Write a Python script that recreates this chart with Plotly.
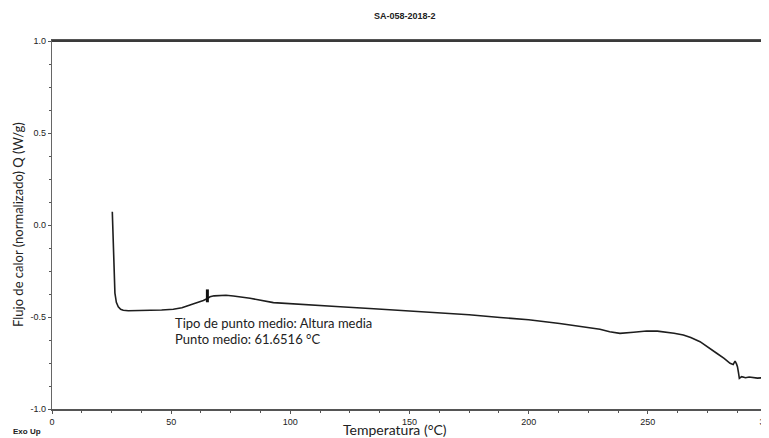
import plotly.graph_objects as go

# Data
temperature = [25.3, 25.6, 26.0, 26.4, 27.0, 27.8, 28.8, 29.9, 32.0, 36.9, 42.0, 46.0, 50.9, 54.5,
               57.9, 61.0, 63.5, 65.2, 66.3, 68.0, 70.5, 73.0, 76.1, 83.1, 92.9, 106.9, 120.9,
               135.0, 150.0, 165.0, 175.0, 188.0, 200.0, 213.0, 222.0, 229.9, 234.0, 238.3, 244.0,
               249.5, 254.0, 257.9, 261.0, 264.9, 268.0, 271.9, 275.0, 278.9, 282.0, 284.5, 285.8,
               286.6, 287.2, 287.6, 288.0, 288.4, 289.4, 291.0, 292.5, 294.3, 296.0, 298.5]
heat_flow = [0.072, -0.05, -0.20, -0.37, -0.42, -0.444, -0.458, -0.463, -0.466, -0.466, -0.464,
             -0.462, -0.458, -0.450, -0.435, -0.422, -0.41, -0.40, -0.39, -0.385, -0.382, -0.382,
             -0.386, -0.398, -0.422, -0.435, -0.444, -0.455, -0.467, -0.478, -0.488, -0.503,
             -0.515, -0.535, -0.552, -0.567, -0.580, -0.589, -0.583, -0.576, -0.577, -0.582,
             -0.588, -0.598, -0.612, -0.634, -0.660, -0.697, -0.725, -0.752, -0.758, -0.740,
             -0.755, -0.770, -0.80, -0.833, -0.824, -0.830, -0.826, -0.828, -0.832, -0.830]

midpoint_marker_x = [65.2, 65.2]
midpoint_marker_y = [-0.35, -0.42]

x_ticks = [0, 50, 100, 150, 200, 250, 300]
y_ticks = [-1.0, -0.5, 0.0, 0.5, 1.0]
y_tick_labels = ["-1.0", "-0.5", "0.0", "0.5", "1.0"]

title_text = "SA-058-2018-2"
x_title = "Temperatura (°C)"
y_title = "Flujo de calor (normalizado) Q (W/g)"
note_lines = ["Tipo de punto medio: Altura media", "Punto medio: 61.6516 °C"]

narrow = "Liberation Sans Narrow, Arial Narrow, Liberation Sans, Arial"
humanist = "Lato, Open Sans, sans-serif"

fig = go.Figure()
fig.add_trace(go.Scatter(x=temperature, y=heat_flow, mode="lines",
                         line=dict(color="#1e1e1e", width=1.6), showlegend=False,
                         hoverinfo="skip"))
fig.add_trace(go.Scatter(x=midpoint_marker_x, y=midpoint_marker_y, mode="lines",
                         line=dict(color="#111", width=3), showlegend=False, hoverinfo="skip"))

axis_common = dict(showgrid=False, zeroline=False, ticks="outside", ticklen=3,
                   tickcolor="#555", tickfont=dict(family=narrow, size=9, color="#222"),
                   ticklabeloverflow="allow")

fig.update_layout(
    xaxis=dict(range=[0, 300], tickvals=x_ticks, ticktext=[str(v) for v in x_ticks],
               showline=True, linecolor="#555", linewidth=1.8, mirror=True,
               minor=dict(dtick=12.5, ticks="outside", ticklen=2, tickcolor="#555"),
               **axis_common),
    yaxis=dict(range=[-1.0, 1.0], tickvals=y_ticks, ticktext=y_tick_labels,
               showline=True, linecolor="#666", linewidth=1.4, mirror=True,
               minor=dict(dtick=0.125, ticks="outside", ticklen=2, tickcolor="#555"),
               **axis_common),
)

# The page body has an 8px margin; figure is sized so that the plot area lands at
# page x 52..767, y 41..409.
OFF = 8
FW, FH = 769 - OFF, 438 - OFF
ML, MR, MT, MB = 52 - OFF, 2, 41 - OFF, 29
PW, PH = FW - ML - MR, FH - MT - MB  # plot area size in px


def px_to_paper_x(px):
    return (px - 52) / PW


def px_to_paper_y(py):
    return (409 - py) / PH


# explicit top and right frame lines (darker/thicker, as in reference)
right_edge = px_to_paper_x(763.5)
fig.add_shape(type="line", xref="paper", yref="paper", x0=0, x1=right_edge, y0=1, y1=1,
              line=dict(color="#3a3a3a", width=2), layer="above")
fig.add_shape(type="line", xref="paper", yref="paper", x0=right_edge, x1=right_edge, y0=0, y1=1,
              line=dict(color="#3a3a3a", width=2.5), layer="above")

fig.add_annotation(text=note_lines[0], x=50.6, y=-0.532, xref="x", yref="y",
                   xanchor="left", yanchor="middle", showarrow=False,
                   font=dict(family=humanist, size=13, color="#222"))
fig.add_annotation(text=note_lines[1], x=50.6, y=-0.622, xref="x", yref="y",
                   xanchor="left", yanchor="middle", showarrow=False,
                   font=dict(family=humanist, size=13, color="#222"))

fig.add_annotation(text="<b>" + title_text + "</b>", x=px_to_paper_x(405), y=px_to_paper_y(16),
                   xref="paper", yref="paper", xanchor="center", yanchor="middle",
                   showarrow=False, font=dict(family=narrow, size=9, color="#222"))
fig.add_annotation(text=x_title, x=px_to_paper_x(395), y=px_to_paper_y(429),
                   xref="paper", yref="paper", xanchor="center", yanchor="middle",
                   showarrow=False, font=dict(family=humanist, size=14, color="#222"))
fig.add_annotation(text=y_title, x=px_to_paper_x(18), y=px_to_paper_y(225),
                   xref="paper", yref="paper", xanchor="center", yanchor="middle",
                   textangle=-90, showarrow=False,
                   font=dict(family=humanist, size=13, color="#222"))
fig.add_annotation(text="<b>Exo Up</b>", x=px_to_paper_x(27), y=px_to_paper_y(431),
                   xref="paper", yref="paper", xanchor="center", yanchor="middle",
                   showarrow=False, font=dict(family=narrow, size=8, color="#222"))

fig.update_layout(width=FW, height=FH,
                  margin=dict(l=ML, r=MR, t=MT, b=MB, autoexpand=False),
                  paper_bgcolor="white", plot_bgcolor="white")

fig.write_html("out.html", config={"displayModeBar": False})
